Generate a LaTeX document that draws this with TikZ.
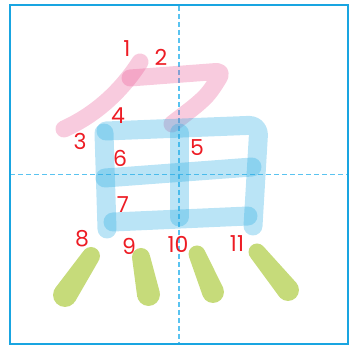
\documentclass[tikz,border=0pt]{standalone}
\usepackage{fontspec}
\setmainfont{Poppins}
\usetikzlibrary{calc}
\definecolor{frameblue}{RGB}{25,165,225}
\definecolor{dashblue}{RGB}{90,195,240}
\definecolor{pinkstroke}{RGB}{233,84,146}
\definecolor{bluestroke}{RGB}{41,171,226}
\definecolor{greenstroke}{RGB}{198,219,122}
\definecolor{numred}{RGB}{237,28,36}
\tikzset{
  pinkline/.style={draw=pinkstroke, draw opacity=0.3, line width=17pt, line cap=round, line join=round},
  blueline/.style={draw=bluestroke, draw opacity=0.32, line width=19pt, line cap=round, line join=round},
  num/.style={text=numred, font=\fontsize{22}{22}\selectfont, inner sep=0pt},
}
\newcommand{\taper}[6]{%
  \fill[greenstroke] (#1,#2) circle (#3pt) (#4,#5) circle (#6pt)
    ($(#1,#2)!#3pt!90:(#4,#5)$) -- ($(#1,#2)!#3pt!-90:(#4,#5)$)
    -- ($(#4,#5)!#6pt!90:(#1,#2)$) -- ($(#4,#5)!#6pt!-90:(#1,#2)$) -- cycle;}
\begin{document}
\begin{tikzpicture}[x=1pt,y=-1pt]
\useasboundingbox (0,0) rectangle (349,347);
% guide lines
\draw[dashblue, line width=1.2pt, dash pattern=on 5pt off 3pt] (179,6) -- (179,344);
\draw[dashblue, line width=1.2pt, dash pattern=on 5pt off 3pt] (10,174.5) -- (347,174.5);
\draw[frameblue, line width=2pt] (9.5,5.5) rectangle (347.5,344);
% pink strokes
\draw[pinkline] (140,62) .. controls (122,90) and (97,114) .. (64,129);
\draw[pinkline, rounded corners=7pt] (130,78) -- (223,71) -- (214,86) .. controls (202,102) and (186,113) .. (172,124);
% blue strokes
\draw[blueline] (104,133) -- (107,229);
\draw[blueline, rounded corners=10pt] (106,131) -- (259,125) -- (253,226);
\draw[blueline] (179,133) -- (179,217);
\draw[blueline] (105,178) -- (252,167);
\draw[blueline] (113,222) -- (248,216);
% green strokes
\taper{91}{256}{9}{65}{295}{12}
\taper{141}{257}{9}{148.5}{294.5}{11.5}
\taper{197}{254}{8.5}{213}{292}{11}
\taper{257}{252}{8.5}{288}{290}{11}
% numbers
\node[num] (n1) at (127,49) {1};
\node[num] (n2) at (161,57) {2};
\node[num] (n3) at (80,141) {3};
\node[num] (n4) at (118,116) {4};
\node[num] (n5) at (197,148) {5};
\node[num] (n6) at (120,158) {6};
\node[num] (n7) at (123,205) {7};
\node[num] (n8) at (82,239) {8};
\node[num] (n9) at (129,246) {9};
\node[num] (n10) at (178,244) {10};
\node[num] (n11) at (237,244) {11};
\end{tikzpicture}
\end{document}
